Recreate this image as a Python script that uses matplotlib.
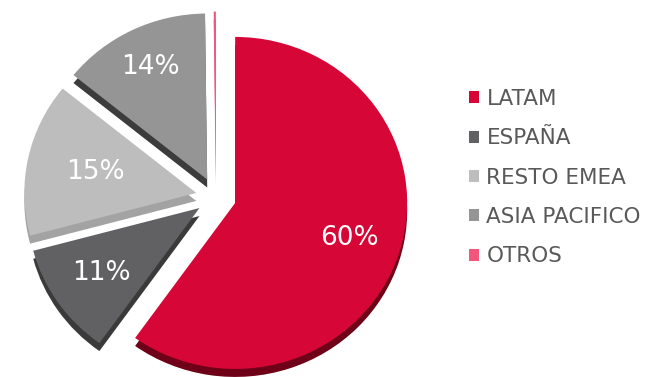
import matplotlib.pyplot as plt
import numpy as np

# Data
regions = ['LATAM', 'ESPAÑA', 'RESTO EMEA', 'ASIA PACIFICO', 'OTROS']
shares = [60, 11, 15, 14, 0.2]
colors = ['#D60636', '#616163', '#BCBDBC', '#959595', '#F2567A']
depth_colors = ['#6E0018', '#3A3A3B', '#A3A3A3', '#3C3C3C', '#F2567A']
label_dist = [0.70, 0.69, 0.6, 0.75, 0.7]

plt.rc('font', family='DejaVu Sans')

fig = plt.figure(figsize=(6.67, 3.77), dpi=100)
ax = fig.add_axes([0, 0, 1, 1])

RX, RY = 172.0, 166.0  # pie radius in pixels (slightly tilted)
explode = [0.117] * len(shares)

# "3D" depth: darker copy shifted down underneath
ax.pie(shares, colors=depth_colors, startangle=90, counterclock=False,
       explode=explode, radius=1, center=(0, -8 / RY), frame=True,
       wedgeprops=dict(linewidth=0))

def pct_label(p):
    return '%.0f%%' % p if p >= 1 else ''

wedges, texts, autotexts = ax.pie(
    shares, colors=colors, startangle=90, counterclock=False,
    explode=explode, radius=1, center=(0, 0), frame=True,
    autopct=pct_label, pctdistance=0.7,
    wedgeprops=dict(linewidth=0),
    textprops=dict(color='white', fontsize=19))

# per-slice label distance from the slice tip
for w, t, d in zip(wedges, autotexts, label_dist):
    th = np.deg2rad((w.theta1 + w.theta2) / 2)
    t.set_position((w.center[0] + d * np.cos(th), w.center[1] + d * np.sin(th)))

# map axes so that the pie centre sits at (216, 197) px
cx, cy = 216, 197
ax.set_xlim(-cx / RX, (667 - cx) / RX)
ax.set_ylim(-(377 - cy) / RY, cy / RY)
ax.set_aspect('auto')
ax.axis('off')

ax.legend(wedges, regions, loc='upper left',
          bbox_to_anchor=(469 / 667, 1 - 89 / 377),
          frameon=False, fontsize=15.5, labelcolor='#595959',
          handlelength=0.48, handleheight=0.48, handletextpad=0.33,
          labelspacing=0.9, borderpad=0, borderaxespad=0)

plt.savefig('out.png', dpi=100)
